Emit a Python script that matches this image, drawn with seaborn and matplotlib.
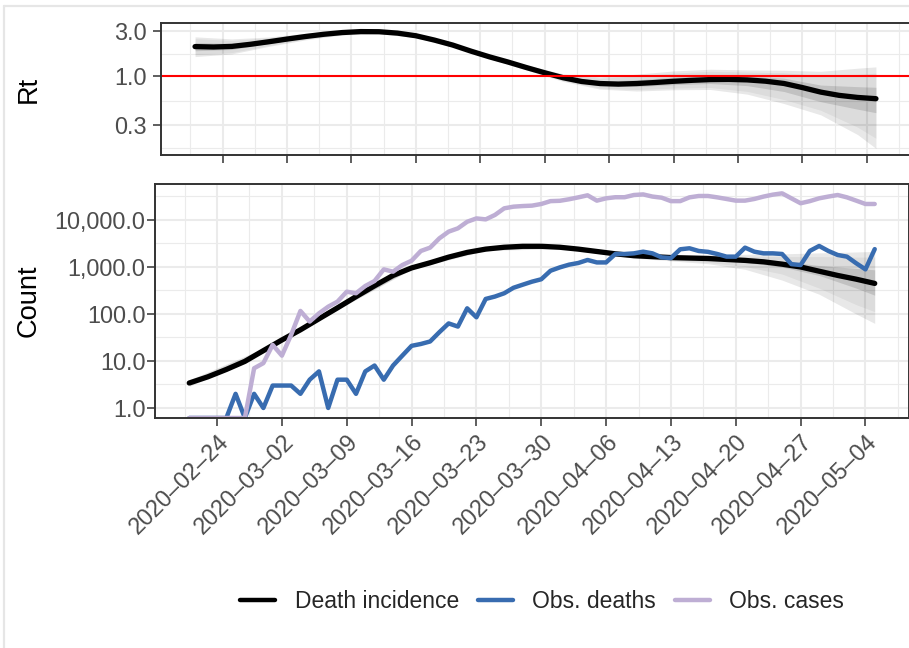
import numpy as np
import pandas as pd
import matplotlib
matplotlib.use("Agg")
import matplotlib.pyplot as plt
import matplotlib.dates as mdates
from matplotlib.lines import Line2D
from matplotlib.ticker import FixedLocator, NullFormatter
import seaborn as sns

# ---------------- data ----------------
start_date = "2020-02-21"

obs_deaths = [0, 0, 0, 0, 0, 2, 0, 2, 1, 3, 3, 3, 2, 4, 6, 1, 4, 4, 2, 6,
              8, 4, 8, 13, 21, 23, 26, 41, 63, 54, 132, 85, 209, 235, 276, 361, 420, 487, 548, 832,
              980, 1120, 1217, 1410, 1250, 1250, 1890, 1890, 1950, 2117, 1950, 1600, 1550, 2380, 2500, 2190, 2100, 1890, 1660, 1660,
              2580, 2117, 1950, 1950, 1890, 1150, 1100, 2200, 2800, 2190, 1800, 1660, 1200, 890, 2400]

obs_cases = [0, 0, 0, 0, 0, 0, 0, 7, 9, 22, 13, 36, 116, 69, 103, 143, 183, 298, 276, 394,
             503, 890, 795, 1100, 1360, 2190, 2580, 4070, 5650, 6640, 9170, 10800, 10300, 12800, 17700, 19200, 19800, 20200, 21900, 25200,
             25600, 27600, 30300, 33500, 25800, 28900, 30500, 30500, 34000, 35000, 31500, 29800, 25200, 25200, 30300, 32400, 32400, 30300, 28000, 25800,
             25800, 28000, 31500, 34600, 36900, 28900, 22700, 25200, 28900, 31500, 34000, 30300, 25800, 21900, 21900]

model_day = [0, 2, 4, 6, 8, 10, 12, 14, 16, 18, 20, 22, 24, 26, 28, 30, 32, 34, 36, 38,
             40, 42, 44, 46, 48, 50, 52, 54, 56, 58, 60, 62, 64, 66, 68, 70, 72, 74]

death_incidence = [3.4, 4.6, 6.6, 9.8, 16.6, 28, 46, 79, 135, 234, 398, 661, 955, 1230, 1622, 2042, 2399, 2630, 2754, 2754,
                   2630, 2399, 2138, 1905, 1738, 1660, 1585, 1549, 1514, 1445, 1380, 1288, 1148, 1000, 813, 661, 550, 447]

rt_median = [2.07, 2.05, 2.08, 2.19, 2.33, 2.49, 2.65, 2.80, 2.92, 2.99, 2.98, 2.88, 2.70, 2.43, 2.15, 1.85, 1.61, 1.42, 1.24, 1.09,
             0.966, 0.881, 0.838, 0.826, 0.838, 0.859, 0.885, 0.906, 0.923, 0.927, 0.916, 0.887, 0.839, 0.759, 0.679, 0.627, 0.596, 0.578]

rt_band_day = [0, 4, 8, 12, 16, 20, 24, 28, 32, 36, 40, 44, 48, 52, 56, 60, 64, 68, 72, 74]
rt_outer_hi = [2.63, 2.50, 2.62, 2.87, 3.09, 3.12, 2.83, 2.25, 1.69, 1.32, 1.06, 0.984, 1.054, 1.14, 1.19, 1.17, 1.16, 1.13, 1.22, 1.26]
rt_outer_lo = [1.62, 1.73, 2.08, 2.44, 2.75, 2.84, 2.58, 2.05, 1.54, 1.17, 0.881, 0.73, 0.697, 0.719, 0.724, 0.646, 0.513, 0.389, 0.240, 0.171]
rt_mid_hi = [2.51, 2.41, 2.56, 2.82, 3.05, 3.09, 2.81, 2.23, 1.67, 1.30, 1.04, 0.953, 1.007, 1.08, 1.13, 1.11, 1.09, 1.02, 1.05, 1.08]
rt_mid_lo = [1.70, 1.79, 2.13, 2.48, 2.79, 2.87, 2.61, 2.07, 1.55, 1.19, 0.897, 0.750, 0.723, 0.750, 0.760, 0.692, 0.566, 0.435, 0.288, 0.219]
rt_inner_hi = [2.28, 2.24, 2.44, 2.74, 2.99, 3.03, 2.75, 2.19, 1.64, 1.27, 1.00, 0.893, 0.918, 0.98, 1.02, 1.01, 0.955, 0.807, 0.776, 0.764]
rt_inner_lo = [1.87, 1.93, 2.23, 2.56, 2.85, 2.92, 2.65, 2.11, 1.58, 1.22, 0.931, 0.792, 0.778, 0.815, 0.838, 0.796, 0.689, 0.537, 0.447, 0.41]

ct_band_day = [0, 8, 16, 24, 32, 40, 44, 48, 52, 56, 60, 64, 68, 72, 74]
ct_outer_hi = [3.98, 18.6, 148, 1023, 2570, 2818, 2344, 1950, 1862, 1820, 1862, 1905, 1995, 2089, 2138]
ct_outer_lo = [2.88, 14.8, 123, 891, 2239, 2455, 1950, 1549, 1349, 1175, 891, 525, 263, 100, 63]
ct_mid_hi = [3.80, 18.2, 145, 1000, 2512, 2754, 2291, 1905, 1778, 1738, 1698, 1660, 1660, 1622, 1622]
ct_mid_lo = [3.02, 15.1, 126, 912, 2291, 2512, 1995, 1585, 1413, 1259, 1023, 708, 355, 158, 112]
ct_inner_hi = [3.55, 17.4, 141, 980, 2455, 2692, 2188, 1820, 1660, 1622, 1514, 1349, 1072, 933, 871]
ct_inner_lo = [3.24, 15.8, 129, 930, 2344, 2570, 2089, 1660, 1514, 1413, 1259, 1000, 661, 355, 251]

x_tick_dates = ["2020-02-24", "2020-03-02", "2020-03-09", "2020-03-16", "2020-03-23", "2020-03-30",
                "2020-04-06", "2020-04-13", "2020-04-20", "2020-04-27", "2020-05-04"]
x_tick_labels = [d.replace("-", "\u2013") for d in x_tick_dates]

rt_ticks = [0.3, 1.0, 3.0]
rt_tick_labels = ["0.3", "1.0", "3.0"]
rt_minor = [0.172, 0.548, 1.73]
ct_ticks = [1, 10, 100, 1000, 10000]
ct_tick_labels = ["1.0", "10.0", "100.0", "1,000.0", "10,000.0"]
ct_minor = [3.16, 31.6, 316, 3162, 31623]

series_names = ["Death incidence", "Obs. deaths", "Obs. cases"]
series_colors = ["#000000", "#386CB0", "#BEAED4"]

# ---------------- style ----------------
sns.set_theme(style="white")
plt.rcParams["font.family"] = ["Liberation Sans", "DejaVu Sans"]

W, H = 909, 648
fig = plt.figure(figsize=(W / 100, H / 100), dpi=100)
ax_rt = fig.add_axes([161 / W, 1 - 155 / H, (910 - 161) / W, (155 - 23) / H])
ax_ct = fig.add_axes([155 / W, 1 - 418 / H, (909 - 155) / W, (418 - 184) / H])

t0 = pd.Timestamp(start_date)
obs_dates = t0 + pd.to_timedelta(np.arange(len(obs_deaths)), unit="D")
model_dates = t0 + pd.to_timedelta(np.array(model_day), unit="D")
rt_band_dates = t0 + pd.to_timedelta(np.array(rt_band_day), unit="D")
ct_band_dates = t0 + pd.to_timedelta(np.array(ct_band_day), unit="D")

span = (obs_dates[-1] - obs_dates[0]) * 0.05
xlim = (obs_dates[0] - span, obs_dates[-1] + span)
rt_ylim = (0.1455, 3.69)
ct_ylim = (0.612, 58300)

tick_dt = pd.to_datetime(x_tick_dates)
minor_dt = [d - pd.Timedelta(hours=84) for d in tick_dt] + [tick_dt[-1] + pd.Timedelta(hours=84)]

grid_major = "#EBEBEB"
border = "#333333"
tick_col = "#4D4D4D"
TICK_FS = 16.9
LEG_FS = 16.5
TITLE_FS = 19.6

for ax in (ax_rt, ax_ct):
    ax.set_yscale("log")
    ax.set_xlim(xlim)
    ax.set_axisbelow(True)
    ax.xaxis.set_major_locator(FixedLocator(mdates.date2num(tick_dt)))
    ax.xaxis.set_minor_locator(FixedLocator(mdates.date2num(minor_dt)))
    ax.grid(which="major", color=grid_major, lw=1.5)
    ax.grid(which="minor", color=grid_major, lw=0.8)
    for s in ax.spines.values():
        s.set_color(border)
        s.set_linewidth(1.4)
    ax.tick_params(which="major", length=5.5, width=1.1, color=border,
                   labelsize=TICK_FS, labelcolor=tick_col, left=True, bottom=True)
    ax.tick_params(which="minor", length=0)

ALPHA_OUT, ALPHA_MID, ALPHA_IN = 0.09, 0.05, 0.12

# ---- Rt panel ----
ax_rt.set_ylim(rt_ylim)
ax_rt.fill_between(rt_band_dates, rt_outer_lo, rt_outer_hi, color="black", alpha=ALPHA_OUT, lw=0)
ax_rt.fill_between(rt_band_dates, rt_mid_lo, rt_mid_hi, color="black", alpha=ALPHA_MID, lw=0)
ax_rt.fill_between(rt_band_dates, rt_inner_lo, rt_inner_hi, color="black", alpha=ALPHA_IN, lw=0)
df_rt = pd.DataFrame({"date": model_dates, "Rt": rt_median})
sns.lineplot(data=df_rt, x="date", y="Rt", ax=ax_rt, color="black", lw=3.8, estimator=None)
ax_rt.axhline(1.0, color="#FF0000", lw=1.5)
ax_rt.yaxis.set_major_locator(FixedLocator(rt_ticks))
ax_rt.yaxis.set_minor_locator(FixedLocator(rt_minor))
ax_rt.set_yticklabels(rt_tick_labels)
ax_rt.yaxis.set_minor_formatter(NullFormatter())
ax_rt.tick_params(axis="x", labelbottom=False)
ax_rt.tick_params(axis="y", pad=4.8)
ax_rt.set_ylim(rt_ylim)
ax_rt.set_xlim(xlim)
ax_rt.set_xlabel("")
ax_rt.set_ylabel("")

# ---- Count panel ----
ax_ct.set_ylim(ct_ylim)
ax_ct.fill_between(ct_band_dates, ct_outer_lo, ct_outer_hi, color="black", alpha=ALPHA_OUT, lw=0)
ax_ct.fill_between(ct_band_dates, ct_mid_lo, ct_mid_hi, color="black", alpha=ALPHA_MID, lw=0)
ax_ct.fill_between(ct_band_dates, ct_inner_lo, ct_inner_hi, color="black", alpha=ALPHA_IN, lw=0)

df_model = pd.DataFrame({"date": model_dates, "value": death_incidence})
sns.lineplot(data=df_model, x="date", y="value", ax=ax_ct, color=series_colors[0], lw=3.8, estimator=None)

# zero counts map to the panel floor, as ggplot does with -Inf on a log scale
floor = ct_ylim[0]
df_obs = pd.DataFrame({"date": obs_dates,
                       "deaths": np.where(np.array(obs_deaths) > 0, obs_deaths, floor),
                       "cases": np.where(np.array(obs_cases) > 0, obs_cases, floor)})
sns.lineplot(data=df_obs, x="date", y="deaths", ax=ax_ct, color=series_colors[1], lw=3.2, estimator=None)
sns.lineplot(data=df_obs, x="date", y="cases", ax=ax_ct, color=series_colors[2], lw=3.2, estimator=None)

ax_ct.yaxis.set_major_locator(FixedLocator(ct_ticks))
ax_ct.yaxis.set_minor_locator(FixedLocator(ct_minor))
ax_ct.set_yticklabels(ct_tick_labels)
ax_ct.yaxis.set_minor_formatter(NullFormatter())
ax_ct.set_xticklabels(x_tick_labels, rotation=45, ha="right", va="top", rotation_mode="anchor")
ax_ct.tick_params(axis="y", pad=1.5)
ax_ct.tick_params(axis="x", pad=3)
ax_ct.set_ylim(ct_ylim)
ax_ct.set_xlim(xlim)
ax_ct.set_xlabel("")
ax_ct.set_ylabel("")

# axis titles
fig.text(29 / W, 1 - 89 / H, "Rt", rotation=90, ha="center", va="center", fontsize=TITLE_FS, color="black")
fig.text(29 / W, 1 - 301 / H, "Count", rotation=90, ha="center", va="center", fontsize=TITLE_FS, color="black")

# legend
handles = [Line2D([], [], color=c, lw=3.2) for c in series_colors]
fig.legend(handles, series_names, loc="center", bbox_to_anchor=(542 / W, 1 - 602 / H), ncol=3,
           frameon=False, fontsize=LEG_FS, handlelength=1.53, handletextpad=0.83, columnspacing=0.83)

# faint outer frame of the screenshot
fig.add_artist(Line2D([4 / W, 4 / W], [0, 1 - 6 / H], color="#E6E6E6", lw=1.6, transform=fig.transFigure))
fig.add_artist(Line2D([4 / W, 1], [1 - 6 / H, 1 - 6 / H], color="#E6E6E6", lw=1.6, transform=fig.transFigure))

fig.savefig("out.png", dpi=100)
